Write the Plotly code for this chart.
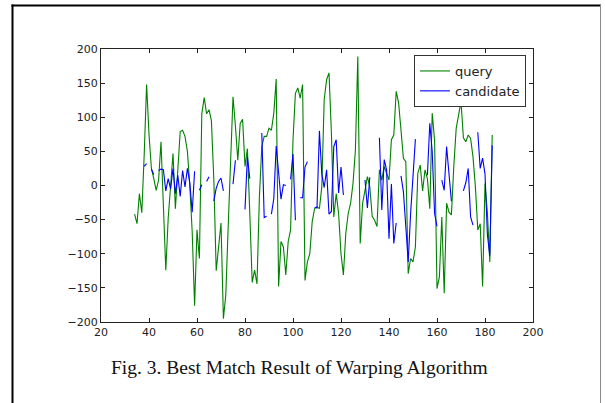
import plotly.graph_objects as go

x_start = 34
x_end = 183
x_values = list(range(x_start, x_end + 1))

query = [
    -42, -56, -12, -40, 45, 148, 75, 25, 10, -7,
    8, 64, -30, -124, -48, -4, 47, -34, 20, 79,
    81, 72, 50, 0, -68, -176, -65, -107, 105, 129,
    105, 111, 95, 10, -125, -90, -55, -195, -160, -60,
    52, 130, 88, 37, 91, 97, 28, 54, -41, -142,
    -124, -144, -16, 57, 72, 72, 84, 81, 106, 156,
    -148, -82, -90, -131, -82, -65, 67, 135, 143, 128,
    148, -139, -112, -100, -53, -34, -31, -34, -2, 126,
    155, 165, 77, -46, -12, -41, -100, -131, -70, -41,
    -26, 3, 52, 189, -85, -26, -7, 13, -2, -45,
    -51, -60, 23, 8, 28, 18, 8, 67, 74, 138,
    121, 81, 40, 35, -129, -107, -112, -90, 18, 30,
    -8, 23, 10, -34, 106, 66, -151, -134, -46, -158,
    -26, -39, -43, 28, 84, 103, 123, 70, 64, 74,
    69, 42, -2, -65, -56, -148, 3, -40, -112, 74,
]

candidate = [
    None, None, None, None, 28, 32, None, 24, 16, None,
    22, 24, 23, -8, 10, -5, 25, -12, 15, -16,
    22, -2, 25, 4, -39, 21, None, -7, 1, None,
    6, 13, None, -23, -4, 6, 11, -8, None, None,
    None, 2, 37, None, None, None, -35, 42, 10, None,
    None, None, None, 77, -47, -45, None, -42, -19, 58,
    18, -20, 1, 0, None, 9, 46, -51, None, -18,
    -18, 27, 35, None, None, -32, -33, 80, 17, -3,
    23, -42, -38, 57, 67, -11, 27, -14, None, None,
    None, None, None, None, None, None, 8, -33, 12, None,
    None, None, 70, -36, 38, 23, -78, 2, -85, -55,
    None, 14, -9, -60, -112, -41, 20, 68, None, None,
    None, None, 15, 91, 50, -41, -60, None, 8, -7,
    57, 10, -23, None, None, None, None, -8, 4, 25,
    -46, -58, None, 78, 25, 40, 17, -72, -103, 59,
]

series_names = ["query", "candidate"]
x_ticks = [20, 40, 60, 80, 100, 120, 140, 160, 180, 200]
y_ticks = [-200, -150, -100, -50, 0, 50, 100, 150, 200]
caption = "Fig. 3. Best Match Result of Warping Algorithm"

W, H = 605, 403
L, R, T, B = 101, 533, 49, 322
pw, ph = R - L, B - T


def px(xp):
    return (xp - L) / pw


def py(yp):
    return (B - yp) / ph


fig = go.Figure()
fig.add_trace(go.Scatter(x=x_values, y=query, mode="lines", name=series_names[0],
                         line=dict(color="#008000", width=1.1)))
fig.add_trace(go.Scatter(x=x_values, y=candidate, mode="lines", name=series_names[1],
                         connectgaps=False,
                         line=dict(color="#0000ff", width=1.1)))

axis_common = dict(
    showgrid=False, zeroline=False, showline=True, linecolor="#222222", linewidth=1,
    mirror="ticks", ticks="inside", ticklen=4, tickcolor="#222222", tickwidth=1,
    tickfont=dict(family="DejaVu Sans", size=11, color="#222222"),
)
fig.update_xaxes(range=[20, 200], tickvals=x_ticks, **axis_common)
fig.update_yaxes(range=[-200, 200], tickvals=y_ticks, **axis_common)

fig.update_layout(
    width=W, height=H,
    margin=dict(l=L, r=W - R, t=T, b=H - B, pad=0),
    paper_bgcolor="white", plot_bgcolor="white",
    legend=dict(
        x=px(526), y=py(55), xanchor="right", yanchor="top",
        bgcolor="white", bordercolor="#333333", borderwidth=1,
        font=dict(family="DejaVu Sans", size=13, color="#222222"),
        itemwidth=30, tracegroupgap=0,
    ),
    showlegend=True,
)

fig.add_annotation(
    text=caption, xref="paper", yref="paper", x=px(299), y=py(367),
    xanchor="center", yanchor="middle", showarrow=False,
    font=dict(family="Liberation Serif", size=19.5, color="#111111"),
)

# outer figure frame
fig.add_shape(type="line", xref="paper", yref="paper", x0=px(12.5), x1=px(12.5),
              y0=py(4.5), y1=py(404), line=dict(color="black", width=2))
fig.add_shape(type="line", xref="paper", yref="paper", x0=px(11.5), x1=px(601),
              y0=py(5.5), y1=py(5.5), line=dict(color="black", width=2))
fig.add_shape(type="line", xref="paper", yref="paper", x0=px(600.5), x1=px(600.5),
              y0=py(5), y1=py(404), line=dict(color="#888888", width=1))

fig.write_html("out.html")
